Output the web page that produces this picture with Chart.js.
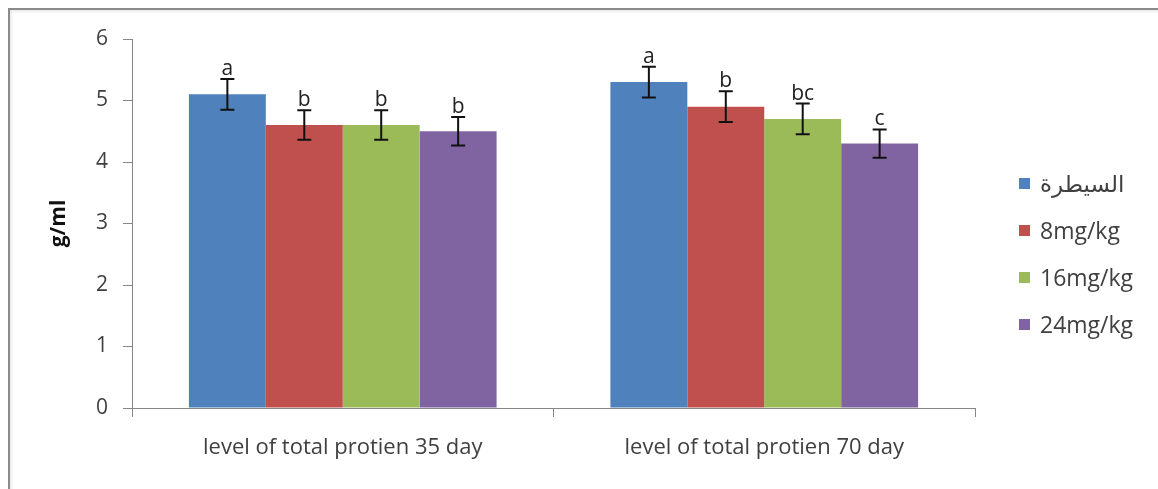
<!DOCTYPE html>
<html>
<head>
<meta charset="utf-8">
<script src="https://cdn.jsdelivr.net/npm/chart.js@4.4.1/dist/chart.umd.min.js"></script>
<style>
  html, body { margin: 0; padding: 0; background: #fff; }
  #wrap { position: relative; width: 1158px; height: 489px; overflow: hidden; }
  #frame { position: absolute; left: 8px; top: 8px; width: 1200px; height: 600px;
           border-left: 2px solid #8a8a8a; border-top: 2px solid #8a8a8a;
           box-shadow: inset 2px 2px 3px rgba(0,0,0,0.08); pointer-events: none; }
  #legend { position: absolute; left: 1019px; top: 168px; font-family: "Open Sans", "DejaVu Sans", sans-serif;
            font-size: 23px; color: #404040; }
  #legend div { height: 47px; line-height: 30px; display: flex; align-items: flex-start; }
  #legend span.box { display: inline-block; width: 11px; height: 11px; margin: 10px 10px 0 0; }
</style>
</head>
<body>
<div id="wrap">
  <canvas id="grafico" width="1158" height="489"></canvas>
  <div id="frame"></div>
  <div id="legend"></div>
</div>
<script>
// ======================================
// DATOS
// ======================================

const categorias = ["level of total protien 35 day", "level of total protien 70 day"];
const series = ["السيطرة", "8mg/kg", "16mg/kg", "24mg/kg"];
const colores = ["#4F81BD", "#C0504D", "#9BBB59", "#8064A2"];

const control = [5.1, 5.3];
const dosis8 = [4.6, 4.9];
const dosis16 = [4.6, 4.7];
const dosis24 = [4.5, 4.3];

const errControl = [0.25, 0.25];
const err8 = [0.24, 0.25];
const err16 = [0.24, 0.25];
const err24 = [0.23, 0.23];

const letrasControl = ["a", "a"];
const letras8 = ["b", "b"];
const letras16 = ["b", "bc"];
const letras24 = ["b", "c"];

const yTicks = [0, 1, 2, 3, 4, 5, 6];

const valores = [control, dosis8, dosis16, dosis24];
const errores = [errControl, err8, err16, err24];
const letras = [letrasControl, letras8, letras16, letras24];

const fuente = "'Open Sans', 'DejaVu Sans', sans-serif";

// ======================================
// BARRAS DE ERROR + LETRAS
// ======================================

const barrasError = {
  id: "barrasError",
  afterDatasetsDraw(chart) {
    const ctx = chart.ctx;
    const y = chart.scales.y;
    chart.data.datasets.forEach((ds, i) => {
      const meta = chart.getDatasetMeta(i);
      meta.data.forEach((bar, j) => {
        const v = ds.data[j];
        const e = errores[i][j];
        const x = bar.x;
        const yTop = y.getPixelForValue(v + e);
        const yBot = y.getPixelForValue(v - e);
        ctx.save();
        ctx.strokeStyle = "#111";
        ctx.lineWidth = 2;
        ctx.beginPath();
        ctx.moveTo(x, yTop); ctx.lineTo(x, yBot);
        ctx.moveTo(x - 7, yTop); ctx.lineTo(x + 7, yTop);
        ctx.moveTo(x - 7, yBot); ctx.lineTo(x + 7, yBot);
        ctx.stroke();
        ctx.fillStyle = "#222";
        ctx.font = "21px " + fuente;
        ctx.textAlign = "center";
        ctx.textBaseline = "alphabetic";
        ctx.fillText(letras[i][j], x, yTop - 4);
        ctx.restore();
      });
    });
  }
};

// ======================================
// GRAFICO
// ======================================

const chart = new Chart(document.getElementById("grafico"), {
  type: "bar",
  data: {
    labels: categorias,
    datasets: series.map((s, i) => ({
      label: s,
      data: valores[i],
      backgroundColor: colores[i],
      borderWidth: 0,
      categoryPercentage: 0.73,
      barPercentage: 1
    }))
  },
  options: {
    responsive: false,
    animation: false,
    layout: { padding: { top: 39, right: 183, bottom: 0, left: 0 } },
    plugins: { legend: { display: false }, tooltip: { enabled: false } },
    scales: {
      x: {
        afterFit: s => { s.height = 81; },
        grid: { display: true, drawOnChartArea: false, drawTicks: true, tickLength: 9, color: "#868686" },
        border: { display: true, color: "#868686", width: 1 },
        ticks: { color: "#404040", font: { family: fuente, size: 22 }, padding: 18 }
      },
      y: {
        min: 0,
        max: 6,
        afterFit: s => { s.width = 132; },
        afterBuildTicks: s => { s.ticks = yTicks.map(v => ({ value: v })); },
        grid: { display: true, drawOnChartArea: false, drawTicks: true, tickLength: 9, color: "#868686" },
        border: { display: true, color: "#868686", width: 1 },
        ticks: { color: "#404040", font: { family: fuente, size: 21 }, padding: 15 },
        title: { display: true, text: "g/ml", color: "#111", font: { family: fuente, size: 21, weight: "bold" },
                 padding: { top: 46, bottom: 0 } }
      }
    }
  },
  plugins: [barrasError]
});

// ======================================
// LEYENDA
// ======================================

const leyenda = document.getElementById("legend");
series.forEach((s, i) => {
  const fila = document.createElement("div");
  fila.innerHTML = `<span class="box" style="background:${colores[i]}"></span><span>${s}</span>`;
  leyenda.appendChild(fila);
});
</script>
</body>
</html>
